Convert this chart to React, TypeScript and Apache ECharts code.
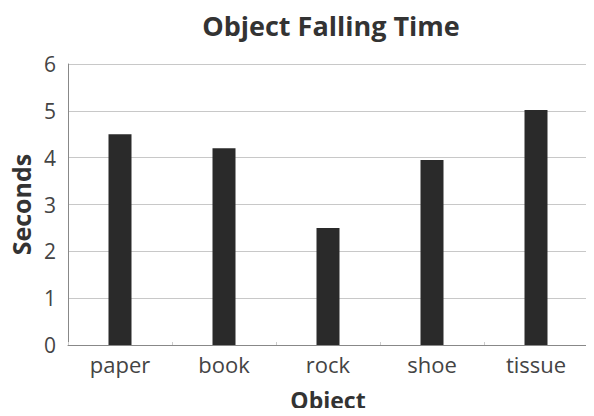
import React, { useEffect, useRef } from "react";
import * as echarts from "echarts";

const categories = ["paper", "book", "rock", "shoe", "tissue"];
const seconds = [4.5, 4.2, 2.5, 3.95, 5.02];
const yTicks = [0, 1, 2, 3, 4, 5, 6];

const FONT = "Open Sans";

export default function App() {
  const ref = useRef<HTMLDivElement>(null);
  useEffect(() => {
    const chart = echarts.init(ref.current!, undefined, { renderer: "svg" });
    chart.setOption({
      animation: false,
      backgroundColor: "#ffffff",
      title: {
        text: "Object Falling Time",
        left: 326,
        top: 7,
        textAlign: "center",
        textStyle: { fontFamily: FONT, fontWeight: "bold", fontSize: 27, color: "#333" },
      },
      grid: { left: 68, top: 64, width: 520, height: 285 },
      xAxis: {
        type: "category",
        data: categories,
        name: "Object",
        nameLocation: "middle",
        nameGap: 43,
        nameTextStyle: { fontFamily: FONT, fontWeight: "bold", fontSize: 23, color: "#333" },
        axisLine: { lineStyle: { color: "#888", width: 1 } },
        axisTick: { show: true, inside: true, length: 3, lineStyle: { color: "#ccc" } },
        axisLabel: { fontFamily: FONT, fontSize: 22, color: "#444", margin: 8 },
      },
      yAxis: {
        type: "value",
        min: 0,
        max: 6,
        interval: 1,
        name: "Seconds",
        nameLocation: "middle",
        nameGap: 33,
        nameTextStyle: { fontFamily: FONT, fontWeight: "bold", fontSize: 25, color: "#333" },
        axisLine: { show: true, lineStyle: { color: "#888", width: 1 } },
        axisTick: { show: false },
        axisLabel: {
          fontFamily: FONT,
          fontSize: 21,
          color: "#444",
          margin: 12,
          formatter: (v: number) => (yTicks.includes(v) ? String(v) : ""),
        },
        splitLine: { show: true, lineStyle: { color: "#c8c8c8", width: 1 } },
      },
      series: [
        {
          type: "bar",
          data: seconds,
          barWidth: 23,
          itemStyle: { color: "#2a2a2a" },
        },
      ],
    });
    return () => chart.dispose();
  }, []);
  return <div ref={ref} style={{ width: 594, height: 416, margin: -8 }} />;
}
